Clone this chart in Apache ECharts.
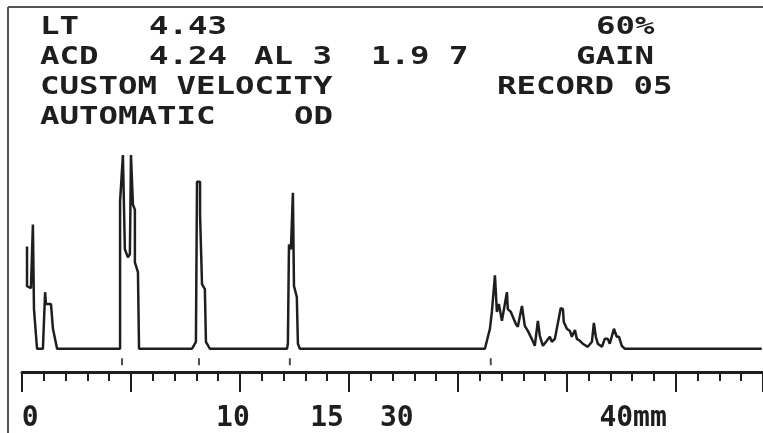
<!DOCTYPE html>
<html>
<head>
<meta charset="utf-8">
<script src="https://cdn.jsdelivr.net/npm/echarts@6/dist/echarts.min.js"></script>
<style>
  html, body { margin: 0; padding: 0; background: #fff; }
  #chart { width: 763px; height: 433px; }
</style>
</head>
<body>
<div id="chart"></div>
<script>
// header printed by the scanner, row by row
const headerRows = [
  ['LT', '4.43', '60%'],
  ['ACD', '4.24', 'AL 3  1.9 7', 'GAIN'],
  ['CUSTOM VELOCITY', 'RECORD 05'],
  ['AUTOMATIC', 'OD']
]
// where each piece starts (px)
const headerX = [
  [40, 149, 596],
  [40, 149, 254, 576],
  [40, 497],
  [40, 294]
]

// ruler: position in mm-ticks, printed label
const labelValues = [0.37, 9.68, 14.0, 17.2, 28.04]
const labelTexts = ['0', '10', '15', '30', '40mm']

// gate markers under the echoes
const gates = [4.59, 8.12, 12.29, 21.51]

// echo trace: x (ruler units), amplitude (%)
const traceX = [
  0.23, 0.23, 0.41, 0.50, 0.55, 0.64, 0.69, 0.96, 1.06, 1.10, 1.33, 1.42, 1.51, 1.61,
  4.50, 4.50, 4.59, 4.63, 4.72, 4.72, 4.86, 4.95, 5.00, 5.09, 5.09, 5.18, 5.18, 5.32, 5.37,
  7.80, 7.98, 8.03, 8.17, 8.17, 8.26, 8.26, 8.39, 8.44, 8.62,
  12.16, 12.20, 12.25, 12.34, 12.43, 12.48, 12.61, 12.66, 12.75,
  21.24, 21.47, 21.56, 21.70, 21.79, 21.88, 22.02, 22.11, 22.25, 22.29, 22.43, 22.52, 22.66, 22.75,
  22.94, 23.03, 23.07, 23.21, 23.39, 23.53, 23.67, 23.76, 23.90, 24.08, 24.22, 24.31, 24.45,
  24.72, 24.82, 24.86, 25.00, 25.14, 25.23, 25.37, 25.46, 25.60, 25.73, 25.96, 26.15, 26.24,
  26.33, 26.42, 26.61, 26.74, 26.88, 26.97, 27.16, 27.29, 27.39, 27.52, 27.66, 33.94
]
const traceY = [
  52.8, 32.3, 31.3, 64.1, 20.5, 19.5, 0, 0, 29.2, 23.1, 23.1, 10.3, 10.3, 0,
  0, 75.9, 76.9, 100, 100, 51.3, 47.2, 48.7, 100, 100, 74.4, 71.8, 44.6, 39.5, 0,
  0, 3.6, 86.2, 86.2, 69.2, 68.2, 33.3, 30.8, 3.6, 0,
  0, 2.6, 53.8, 51.3, 80.5, 32.3, 26.7, 2.6, 0,
  0, 10.3, 19.0, 37.9, 19.0, 23.1, 14.4, 14.4, 29.2, 20.5, 19.0, 19.0, 12.8, 11.3,
  22.1, 22.1, 11.8, 9.2, 5.1, 1.5, 14.4, 6.7, 1.5, 4.1, 6.2, 3.6, 5.1,
  21.0, 20.5, 13.8, 10.3, 9.2, 6.2, 9.7, 5.1, 4.1, 2.6, 1.0, 3.6, 13.3,
  6.2, 2.6, 1.0, 5.1, 5.1, 2.6, 10.3, 6.2, 6.2, 1.5, 0, 0
]

const ink = '#1e1e1e'
const mono = 'DejaVu Sans Mono'
const stretch = 1.296

const graphics = [
  { type: 'line', shape: { x1: 8, y1: 7, x2: 763, y2: 7 }, style: { stroke: '#555', lineWidth: 2 } },
  { type: 'line', shape: { x1: 8, y1: 7, x2: 8, y2: 433 }, style: { stroke: '#555', lineWidth: 2 } }
]
headerRows.forEach((row, r) => {
  row.forEach((t, i) => {
    graphics.push({
      type: 'text', x: headerX[r][i], y: 15 + r * 30, scaleX: stretch,
      style: { text: t, font: 'bold 25px ' + mono, fill: ink, verticalAlign: 'top' }
    })
  })
})

const myChart = echarts.init(document.getElementById('chart'))

myChart.setOption({
  animation: false,
  backgroundColor: '#fff',
  grid: { left: 22, right: 0, top: 155, bottom: 60 },
  xAxis: [
    {
      type: 'value', min: 0, max: 34, interval: 5, position: 'bottom',
      axisLine: { onZero: false, lineStyle: { color: ink, width: 3 } },
      axisTick: { length: 20, lineStyle: { color: ink, width: 2 } },
      axisLabel: { show: false },
      splitLine: { show: false }
    },
    {
      type: 'value', min: 0, max: 34, interval: 1, position: 'bottom',
      axisLine: { show: false, onZero: false },
      axisTick: { length: 9, lineStyle: { color: ink, width: 2 } },
      axisLabel: { show: false },
      splitLine: { show: false }
    },
    {
      type: 'value', min: 0, max: 34, position: 'bottom',
      axisLine: { show: false, onZero: false },
      axisTick: { show: false },
      splitLine: { show: false },
      axisLabel: {
        customValues: labelValues,
        margin: 33,
        color: ink,
        fontFamily: mono,
        fontWeight: 'bold',
        fontSize: 28,
        formatter: (v) => {
          let idx = labelValues.findIndex(l => Math.abs(l - v) < 0.01)
          return idx < 0 ? '' : labelTexts[idx]
        }
      }
    }
  ],
  yAxis: {
    type: 'value', min: -12, max: 100, show: false
  },
  series: [
    {
      type: 'line',
      showSymbol: false,
      clip: true,
      lineStyle: { color: ink, width: 2.5 },
      data: traceX.map((x, i) => [x, traceY[i]])
    },
    {
      type: 'scatter',
      symbol: 'rect',
      symbolSize: [2, 7],
      itemStyle: { color: ink },
      data: gates.map(g => [g, -6.7])
    }
  ],
  graphic: graphics
})
</script>
</body>
</html>
